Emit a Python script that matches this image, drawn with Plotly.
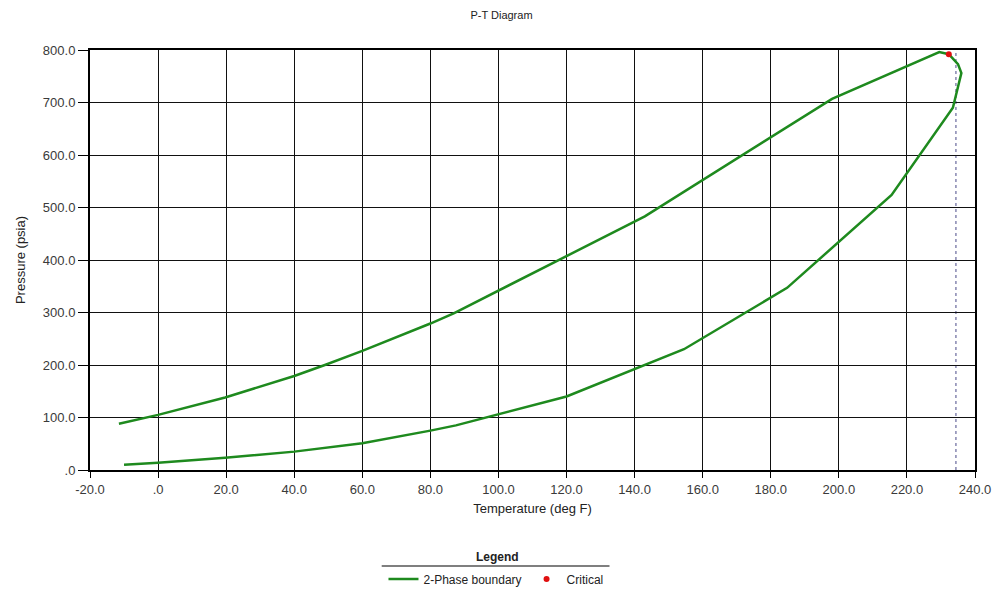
import plotly.graph_objects as go

# 2-phase boundary (bubble branch -> critical region -> dew branch)
temp_F = [-11.5, 0.0, 19.7, 32.0, 40.0, 49.0, 60.0, 80.0, 87.0, 143.0, 198.0,
          229.5, 232.3, 235.0, 236.0, 233.5, 215.5, 184.8, 154.5, 120.0,
          87.5, 80.0, 60.0, 40.0, 19.7, 0.0, -10.0]
pressure_psia = [88, 105, 138, 162, 179, 200, 227, 279, 299, 483, 707,
                 796, 792, 773, 756, 690, 524, 347, 230, 140,
                 85, 75, 51, 35, 23.5, 14, 10]

critical_T = [232.3]
critical_P = [792]

cricondentherm_T = 234.4

x_ticks = [-20, 0, 20, 40, 60, 80, 100, 120, 140, 160, 180, 200, 220, 240]
x_ticktext = ["-20.0", ".0", "20.0", "40.0", "60.0", "80.0", "100.0", "120.0",
              "140.0", "160.0", "180.0", "200.0", "220.0", "240.0"]
y_ticks = [0, 100, 200, 300, 400, 500, 600, 700, 800]
y_ticktext = [".0", "100.0", "200.0", "300.0", "400.0", "500.0", "600.0",
              "700.0", "800.0"]

FONT = "Liberation Sans, Arial, sans-serif"

fig = go.Figure()
fig.add_trace(go.Scatter(
    x=temp_F, y=pressure_psia, mode="lines", name="2-Phase boundary",
    line=dict(color="#1e8a1e", width=2.5), cliponaxis=False))
fig.add_trace(go.Scatter(
    x=critical_T, y=critical_P, mode="markers", name="Critical",
    marker=dict(color="#e01010", size=6), cliponaxis=False))

fig.add_shape(type="line", xref="x", yref="paper",
              x0=cricondentherm_T, x1=cricondentherm_T, y0=0, y1=1,
              line=dict(color="#4a4a88", width=1, dash="dot"), layer="below")

# legend header
fig.add_annotation(text="<b>Legend</b>", xref="paper", yref="paper",
                   x=0.461, y=-0.207, yanchor="middle", xanchor="center",
                   showarrow=False,
                   font=dict(family=FONT, size=12, color="#222"))
fig.add_shape(type="line", xref="paper", yref="paper",
              x0=0.3296, x1=0.587, y0=-0.2286, y1=-0.2286,
              line=dict(color="#555", width=1.5))

axis_common = dict(
    showgrid=True, gridcolor="#111", gridwidth=1,
    showline=True, linecolor="#000", linewidth=2, mirror=True,
    ticks="outside", tickcolor="#000", tickwidth=1,
    zeroline=False,
    tickfont=dict(family=FONT, size=13, color="#3a3a3a"),
)

fig.update_layout(
    width=1003, height=592,
    margin=dict(l=90, r=24, t=50, b=122),
    paper_bgcolor="white", plot_bgcolor="white",
    title=dict(text="P-T Diagram", x=0.5, xref="container", xanchor="center",
               y=0.975, yref="container", yanchor="middle",
               font=dict(family=FONT, size=11, color="#222")),
    xaxis=dict(range=[-20, 240], tickvals=x_ticks, ticktext=x_ticktext,
               ticklen=6,
               title=dict(text="Temperature (deg F)", standoff=8,
                          font=dict(family=FONT, size=13, color="#222")),
               **axis_common),
    yaxis=dict(range=[0, 800], tickvals=y_ticks, ticktext=y_ticktext,
               ticklen=10,
               title=dict(text="Pressure (psia)", standoff=14,
                          font=dict(family=FONT, size=13, color="#222")),
               **axis_common),
    legend=dict(orientation="h", xref="container", yref="container",
                x=0.4945, y=0.022, xanchor="center", yanchor="middle",
                font=dict(family=FONT, size=12, color="#222"),
                itemwidth=30, bgcolor="rgba(0,0,0,0)"),
    showlegend=True,
)

fig.write_html("out.html")
